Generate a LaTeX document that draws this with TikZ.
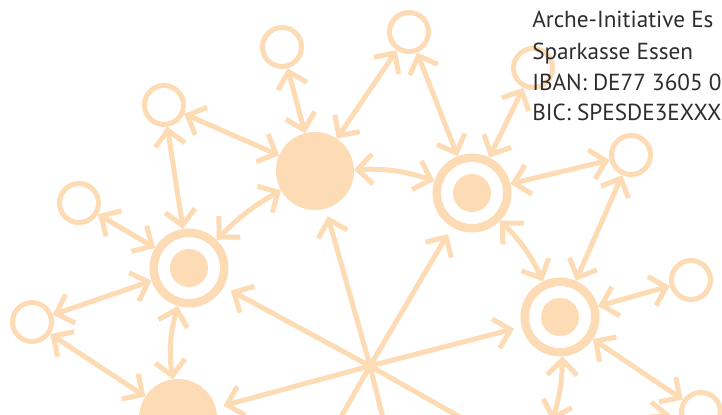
\documentclass[tikz,border=0pt]{standalone}
\usepackage{fontspec}
\setmainfont{PT Sans}
\usetikzlibrary{arrows.meta}
\definecolor{peach}{RGB}{253,219,180}
\definecolor{inktext}{RGB}{45,45,45}

\begin{document}
\begin{tikzpicture}[x=0.025cm, y=-0.025cm,
	ring/.style={circle, draw=peach, line width=0.125cm, minimum size=0.975cm, inner sep=0pt},
	disc/.style={circle, fill=peach, minimum size=1.95cm, inner sep=0pt, outer sep=0pt},
	target/.style={circle, draw=peach, line width=0.2125cm, minimum size=1.7625cm, inner sep=0pt,
		path picture={\fill[peach] (path picture bounding box.center) circle (0.475cm);}},
	barb/.tip={Straight Barb[length=0.375cm, width=0.75cm]},
	link/.style={draw=peach, line width=0.125cm, barb-barb},
	spoke/.style={draw=peach, line width=0.125cm, -barb, shorten >=0.2cm},
	ray/.style={draw=peach, line width=0.125cm},
	bank/.style={anchor=base west, inner sep=0pt, text=inktext, font=\fontsize{16.5}{20}\selectfont}]
	
	\useasboundingbox (0,0) rectangle (722,414);
	\clip (0,0) rectangle (722,414);
	
	%Outer circles
	\node (o1) at (282,47) [ring]{};
	\node (o2) at (164,105) [ring]{};
	\node (o3) at (79,203) [ring]{};
	\node (o4) at (409,32) [ring]{};
	\node (o5) at (533,68) [ring]{};
	\node (o6) at (631,155) [ring]{};
	\node (o7) at (691,280) [ring]{};
	\node (o8) at (32,322) [ring]{};
	\node (o9) at (701,412) [ring]{};
	
	%Discs and targets
	\node (d1) at (315,171) [disc]{};
	\node (d2) at (178,418) [disc]{};
	\node (t1) at (189,268) [target]{};
	\node (t2) at (472,193) [target]{};
	\node (t3) at (560,317) [target]{};
	
	%Star centre and ends outside the frame
	\coordinate (mid) at (370,366);
	\coordinate (offa) at (322,450);
	\coordinate (offb) at (391,450);
	\coordinate (offc) at (518,450);
	\coordinate (belowt3) at (552,421);
	\coordinate (hubr) at (545,428);
	
	%Links
	\draw[link] (o1) -- (d1);
	\draw[link] (o2) -- (d1);
	\draw[link] (o2) -- (t1);
	\draw[link] (o3) -- (t1);
	\draw[link] (o8) -- (t1);
	\draw[link] (o8) -- (d2);
	\draw[link] (o4) -- (d1);
	\draw[link] (o4) -- (t2);
	\draw[link] (o5) -- (t2);
	\draw[link] (o6) -- (t2);
	\draw[link] (o6) -- (t3);
	\draw[link] (o7) -- (t3);
	\draw[link] (t3) -- (o9);
	
	\draw[link] (t1) to[bend right=12] (d2);
	\draw[link] (t1) to[bend left=8] (d1);
	\draw[link] (d1) to[bend left=10] (t2);
	\draw[link] (t2) to[bend left=10] (t3);
	\draw[link] (t3) to[bend left=8] (belowt3);
	
	%Spokes
	\draw[spoke] (mid) -- (t1);
	\draw[spoke] (mid) -- (d1);
	\draw[spoke] (mid) -- (t2);
	\draw[spoke] (mid) -- (t3);
	\draw[spoke] (mid) -- (d2);
	\draw[spoke] (hubr) -- (o9);
	\draw[ray] (mid) -- (offa);
	\draw[ray] (mid) -- (offb);
	\draw[ray] (mid) -- (offc);
	
	%Bank details
	\node (bank1) at (532,27) [bank]{Arche-Initiative Es};
	\node (bank2) at (532,59) [bank]{Sparkasse Essen};
	\node (bank3) at (532,90) [bank]{IBAN: DE77 3605 0};
	\node (bank4) at (532,120) [bank]{BIC: SPESDE3EXXX};
	
\end{tikzpicture}
\end{document}
